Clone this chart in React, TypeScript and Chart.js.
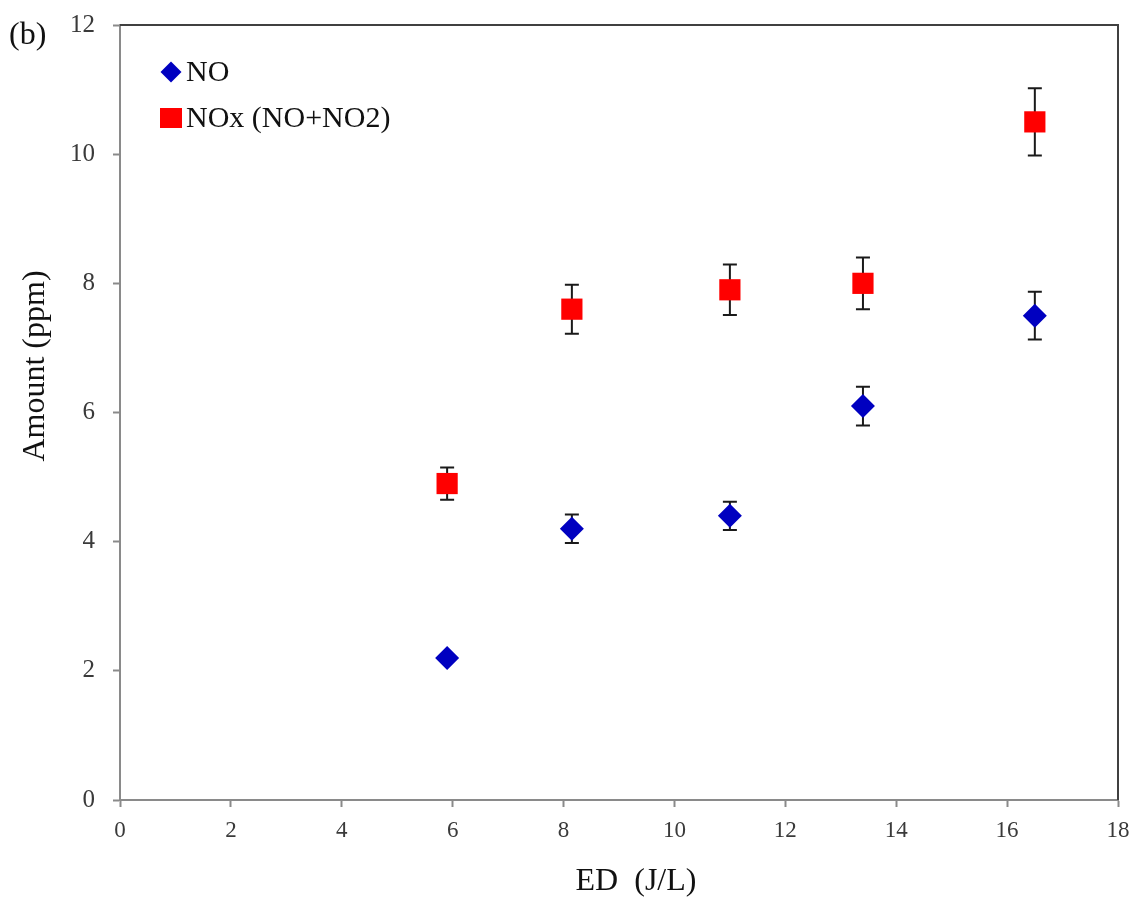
import React, { useEffect, useRef } from "react";
import { Chart, registerables } from "chart.js";

Chart.register(...registerables);

// ---- data ----
const edValues = [5.9, 8.15, 11.0, 13.4, 16.5];
const noValues = [2.2, 4.2, 4.4, 6.1, 7.5];
const noErrors = [0, 0.22, 0.22, 0.3, 0.37];
const noxValues = [4.9, 7.6, 7.9, 8.0, 10.5];
const noxErrors = [0.25, 0.38, 0.39, 0.4, 0.52];
const seriesLabels = ["NO", "NOx (NO+NO2)"];
const xTicks = [0, 2, 4, 6, 8, 10, 12, 14, 16, 18];
const yTicks = [0, 2, 4, 6, 8, 10, 12];
const xTitle = "ED  (J/L)";
const yTitle = "Amount (ppm)";
const panelLabel = "(b)";

const SERIF = "'Liberation Serif', 'Times New Roman', serif";
const BLUE = "#0000C0";
const RED = "#FF0000";

const errorBarPlugin = {
  id: "errorBars",
  beforeDatasetsDraw(chart: any) {
    const { ctx, scales } = chart;
    const xs = scales.x;
    const ys = scales.y;
    ctx.save();
    ctx.strokeStyle = "#1a1a1a";
    ctx.lineWidth = 2;
    chart.data.datasets.forEach((ds: any) => {
      const errs: number[] = ds.errors || [];
      ds.data.forEach((p: any, i: number) => {
        const e = errs[i];
        if (!e) return;
        const px = xs.getPixelForValue(p.x);
        const top = ys.getPixelForValue(p.y + e);
        const bot = ys.getPixelForValue(p.y - e);
        ctx.beginPath();
        ctx.moveTo(px, top);
        ctx.lineTo(px, bot);
        ctx.moveTo(px - 7, top);
        ctx.lineTo(px + 7, top);
        ctx.moveTo(px - 7, bot);
        ctx.lineTo(px + 7, bot);
        ctx.stroke();
      });
    });
    ctx.restore();
  },
};

const frameAndTextPlugin = {
  id: "frameAndText",
  afterDraw(chart: any) {
    const { ctx, chartArea } = chart;
    const { left, right, top, bottom } = chartArea;
    ctx.save();
    // top and right frame
    ctx.strokeStyle = "#404040";
    ctx.lineWidth = 2;
    ctx.beginPath();
    ctx.moveTo(left, top);
    ctx.lineTo(right, top);
    ctx.lineTo(right, bottom);
    ctx.stroke();

    // legend
    ctx.font = `30px ${SERIF}`;
    ctx.textBaseline = "middle";
    ctx.textAlign = "left";
    chart.data.datasets.forEach((ds: any, i: number) => {
      const cy = top + 47 + i * 46;
      const cx = left + 51;
      ctx.fillStyle = ds.backgroundColor;
      ctx.beginPath();
      if (ds.pointStyle === "rectRot") {
        const r = 10.5;
        ctx.moveTo(cx - r, cy);
        ctx.lineTo(cx, cy - r);
        ctx.lineTo(cx + r, cy);
        ctx.lineTo(cx, cy + r);
        ctx.closePath();
      } else {
        ctx.rect(cx - 11, cy - 10, 22, 20);
      }
      ctx.fill();
      ctx.fillStyle = "#111";
      ctx.fillText(ds.label, left + 66, cy + 1);
    });

    // axis titles and panel label
    ctx.fillStyle = "#111";
    ctx.textAlign = "center";
    ctx.textBaseline = "middle";
    ctx.font = `32px ${SERIF}`;
    ctx.fillText(xTitle, 636, 882);
    ctx.save();
    ctx.translate(36, 366);
    ctx.rotate(-Math.PI / 2);
    ctx.fillText(yTitle, 0, 0);
    ctx.restore();
    ctx.textAlign = "left";
    ctx.font = `32px ${SERIF}`;
    ctx.fillText(panelLabel, 9, 36);
    ctx.restore();
  },
};

export default function App() {
  const canvasRef = useRef<HTMLCanvasElement | null>(null);

  useEffect(() => {
    if (!canvasRef.current) return;
    const chart = new Chart(canvasRef.current, {
      type: "scatter",
      data: {
        datasets: [
          {
            label: seriesLabels[0],
            data: edValues.map((x, i) => ({ x, y: noValues[i] })),
            errors: noErrors,
            pointStyle: "rectRot",
            pointRadius: 12,
            pointHoverRadius: 12,
            backgroundColor: BLUE,
            borderColor: BLUE,
            borderWidth: 0,
          } as any,
          {
            label: seriesLabels[1],
            data: edValues.map((x, i) => ({ x, y: noxValues[i] })),
            errors: noxErrors,
            pointStyle: "rect",
            pointRadius: 15,
            pointHoverRadius: 15,
            backgroundColor: RED,
            borderColor: RED,
            borderWidth: 0,
          } as any,
        ],
      },
      options: {
        animation: false,
        responsive: true,
        maintainAspectRatio: false,
        layout: { padding: { top: 25, right: 19, left: 0, bottom: 0 } },
        plugins: {
          legend: { display: false },
          tooltip: { enabled: false },
        },
        scales: {
          x: {
            type: "linear",
            min: 0,
            max: 18,
            afterFit: (s: any) => {
              s.height = 111;
              s.paddingLeft = 0;
              s.paddingRight = 0;
            },
            afterBuildTicks: (s: any) => {
              s.ticks = xTicks.map((v) => ({ value: v }));
            },
            grid: {
              drawOnChartArea: false,
              drawTicks: true,
              tickLength: 7,
              tickColor: "#8a8a8a",
              tickWidth: 2,
            },
            border: { display: true, color: "#8a8a8a", width: 2 },
            ticks: {
              padding: 10,
              color: "#3a3a3a",
              font: { family: SERIF, size: 23 },
              maxRotation: 0,
            },
          },
          y: {
            type: "linear",
            min: 0,
            max: 12,
            afterFit: (s: any) => {
              s.width = 120;
              s.paddingTop = 0;
              s.paddingBottom = 0;
            },
            afterBuildTicks: (s: any) => {
              s.ticks = yTicks.map((v) => ({ value: v }));
            },
            grid: {
              drawOnChartArea: false,
              drawTicks: true,
              tickLength: 7,
              tickColor: "#8a8a8a",
              tickWidth: 2,
            },
            border: { display: true, color: "#8a8a8a", width: 2 },
            ticks: {
              padding: 18,
              color: "#3a3a3a",
              font: { family: SERIF, size: 25 },
            },
          },
        },
      },
      plugins: [errorBarPlugin, frameAndTextPlugin],
    } as any);
    return () => chart.destroy();
  }, []);

  return (
    <div style={{ position: "absolute", left: 0, top: 0, width: 1137, height: 911, background: "#fff" }}>
      <canvas ref={canvasRef} />
    </div>
  );
}
